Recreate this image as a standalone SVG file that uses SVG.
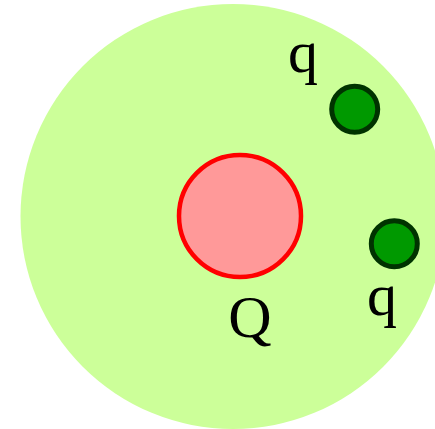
<svg xmlns="http://www.w3.org/2000/svg" width="435" height="429" viewBox="0 0 435 429">
<style>
.lbl{font-family:"Liberation Serif","Times New Roman",serif;font-size:60px;fill:#000;text-anchor:middle}
.q{fill:#009900;stroke:#003300;stroke-width:5}
</style>
<rect width="435" height="429" fill="#fff"/>
<g id="field"><circle cx="233" cy="216.5" r="212.5" fill="#ccff99"/></g>
<g id="Q"><circle cx="240" cy="216" r="61" fill="#ff9999" stroke="#ff0000" stroke-width="4.5"/><text class="lbl" x="250" y="337">Q</text></g>
<g id="q1"><circle class="q" cx="354.7" cy="109.2" r="23"/><text class="lbl" x="303" y="72">q</text></g>
<g id="q2"><circle class="q" cx="394.3" cy="243.7" r="23"/><text class="lbl" x="382" y="315">q</text></g>
<g id="connectors"/>
</svg>
